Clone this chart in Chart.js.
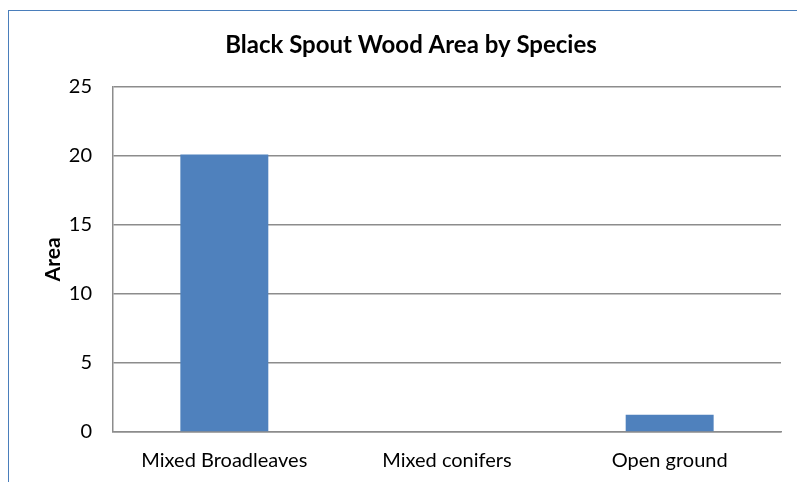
<!DOCTYPE html>
<html>
<head>
<meta charset="utf-8">
<script src="https://cdn.jsdelivr.net/npm/chart.js@4"></script>
<style>
    body { margin: 0; overflow: hidden; background: #fff; }
    .frame { position: absolute; left: 8px; top: 10px; width: 840px; height: 520px; border: 1px solid #4a7ebb; }
    .chartBox { position: absolute; left: 0; top: 0; width: 822px; height: 482px; }
</style>
</head>
<body>
<div class="frame"></div>
<div class="chartBox">
    <canvas id="barChart" width="822" height="482"></canvas>
</div>
<script>
const categories = ["Mixed Broadleaves", "Mixed conifers", "Open ground"];
const areaValues = [20.1, 0, 1.25];
const yTicks = [0, 5, 10, 15, 20, 25];

const gridGray = "#8c8c8c";

const barChart = new Chart(document.getElementById("barChart"), {
    type: "bar",
    data: {
        labels: categories,
        datasets: [
            {
                label: "Area",
                data: areaValues,
                backgroundColor: "#4f81bd",
                barPercentage: 0.395,
                categoryPercentage: 1,
            },
        ],
    },
    options: {
        responsive: false,
        animation: false,
        layout: { padding: { left: 41, right: 41, top: 0, bottom: 0 } },
        plugins: {
            legend: { display: false },
            tooltip: { enabled: false },
            title: {
                display: true,
                text: "Black Spout Wood Area by Species",
                color: "#000",
                font: { family: "Lato", size: 24, weight: "bold" },
                padding: { top: 31, bottom: 27 },
            },
        },
        scales: {
            x: {
                grid: { display: false, drawTicks: false },
                border: { display: true, color: gridGray, width: 1.5 },
                ticks: {
                    color: "#000",
                    font: { family: "Lato", size: 20 },
                    padding: 17,
                    maxRotation: 0,
                },
                afterFit: (scale) => { scale.height = 50; },
            },
            y: {
                min: 0,
                max: 25,
                afterBuildTicks: (scale) => { scale.ticks = yTicks.map((v) => ({ value: v })); },
                grid: { color: gridGray, lineWidth: 1.5, drawTicks: false },
                border: { display: true, color: gridGray, width: 1.5 },
                ticks: {
                    color: "#000",
                    font: { family: "Lato", size: 20 },
                    padding: 21,
                },
                title: {
                    display: true,
                    text: "Area",
                    color: "#000",
                    font: { family: "Lato", size: 21, weight: "bold" },
                    padding: 0,
                },
                afterFit: (scale) => { scale.width = 72; },
            },
        },
    },
});
</script>
</body>
</html>
